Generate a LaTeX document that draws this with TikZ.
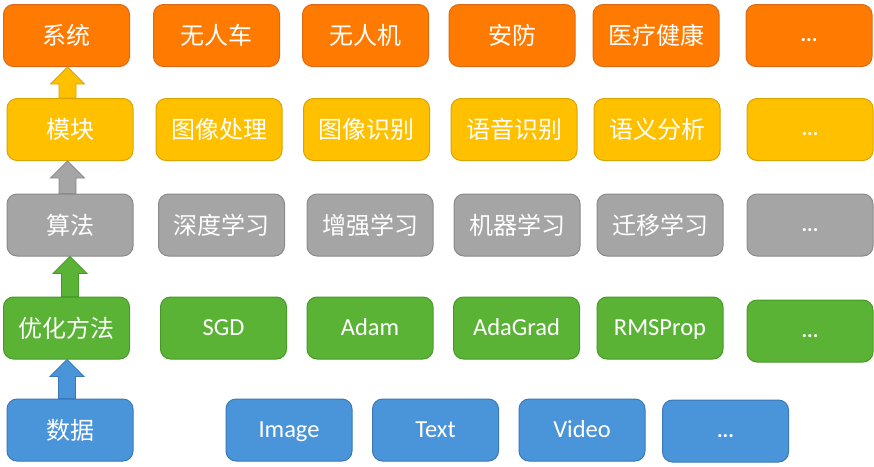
\documentclass[tikz,border=0pt]{standalone}
\usepackage{fontspec}
\setmainfont{Carlito}
\newfontfamily\cjk{Noto Sans CJK SC}
\usetikzlibrary{calc}
\definecolor{cOr}{HTML}{FF7A00}\definecolor{cOrD}{HTML}{DC6A14}
\definecolor{cYe}{HTML}{FFC000}\definecolor{cYeD}{HTML}{D9A400}
\definecolor{cGr}{HTML}{A5A5A5}\definecolor{cGrD}{HTML}{8A8A8A}
\definecolor{cGn}{HTML}{5BB336}\definecolor{cGnD}{HTML}{479A28}
\definecolor{cBl}{HTML}{4A94DA}\definecolor{cBlD}{HTML}{3A78B8}
\tikzset{
  box/.style={rounded corners=10pt, minimum width=126pt, minimum height=62pt,
    inner sep=0pt, line width=1pt, text=white, align=center},
  orbox/.style={box, fill=cOr, draw=cOrD},
  yebox/.style={box, fill=cYe, draw=cYeD},
  grbox/.style={box, fill=cGr, draw=cGrD},
  gnbox/.style={box, fill=cGn, draw=cGnD},
  blbox/.style={box, fill=cBl, draw=cBlD},
  zh/.style={font=\cjk\fontsize{24}{28}\selectfont, text height=21.1pt, text depth=2.9pt},
  en/.style={font=\fontsize{24.5}{28}\selectfont, text height=17.6pt, text depth=1.8pt},
  dots/.style={font=\bfseries\fontsize{21}{24}\selectfont, text height=12pt, text depth=0pt},
}
\newcommand{\barrow}[5]{%
  \path let \p1=(#1.north), \p2=(#2.south) in
    [fill=#3, draw=#4, line width=0.8pt]
    (#5pt-8.5pt,\y1) -- (#5pt-8.5pt,\y2-17pt) -- (#5pt-17pt,\y2-17pt) -- (#5pt,\y2)
    -- (#5pt+17pt,\y2-17pt) -- (#5pt+8.5pt,\y2-17pt) -- (#5pt+8.5pt,\y1) -- cycle;}
\begin{document}
\begin{tikzpicture}[x=1pt,y=1pt]
\useasboundingbox (0,0) rectangle (874,-466);
% row 1
\node[orbox,zh] (s1) at (66.5,-35.5) {系统};
\node[orbox,zh] (s2) at (216.5,-35.5) {无人车};
\node[orbox,zh] (s3) at (365.5,-35.5) {无人机};
\node[orbox,zh] (s4) at (512,-35.5) {安防};
\node[orbox,zh] (s5) at (656,-35.5) {医疗健康};
\node[orbox,dots] (s6) at (809,-35.5) {...};
% row 2
\node[yebox,zh] (m1) at (70,-129.5) {模块};
\node[yebox,zh] (m2) at (219,-129.5) {图像处理};
\node[yebox,zh] (m3) at (366.5,-129.5) {图像识别};
\node[yebox,zh] (m4) at (514,-129.5) {语音识别};
\node[yebox,zh] (m5) at (657,-129.5) {语义分析};
\node[yebox,dots] (m6) at (810,-129.5) {...};
% row 3
\node[grbox,zh] (a1) at (70,-225) {算法};
\node[grbox,zh] (a2) at (221.5,-225) {深度学习};
\node[grbox,zh] (a3) at (370,-225) {增强学习};
\node[grbox,zh] (a4) at (517,-225) {机器学习};
\node[grbox,zh] (a5) at (660,-225) {迁移学习};
\node[grbox,dots] (a6) at (810,-225) {...};
% row 4
\node[gnbox,zh] (o1) at (66.5,-328) {优化方法};
\node[gnbox,en] (o2) at (223.5,-328) {SGD};
\node[gnbox,en] (o3) at (370,-328) {Adam};
\node[gnbox,en] (o4) at (516.5,-328) {AdaGrad};
\node[gnbox,en] (o5) at (660,-328) {RMSProp};
\node[gnbox,dots] (o6) at (810,-331) {...};
% row 5
\node[blbox,zh] (d1) at (70,-430) {数据};
\node[blbox,en] (d2) at (289,-430) {Image};
\node[blbox,en] (d3) at (435.5,-430) {Text};
\node[blbox,en] (d4) at (582,-430) {Video};
\node[blbox,dots] (d5) at (725.5,-431) {...};
% block arrows
\barrow{m1}{s1}{cYe}{cYeD}{67.5}
\barrow{a1}{m1}{cGr}{cGrD}{67.5}
\barrow{o1}{a1}{cGn}{cGnD}{70}
\barrow{d1}{o1}{cBl}{cBlD}{67}
\end{tikzpicture}
\end{document}
